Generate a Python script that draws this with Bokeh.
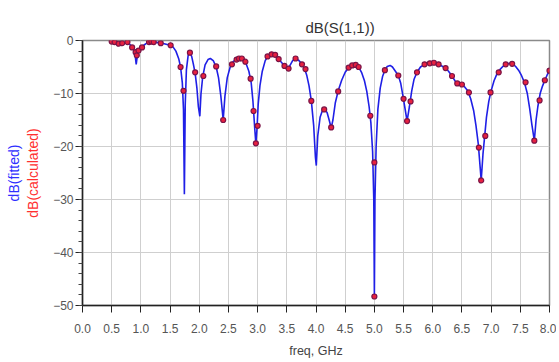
from bokeh.plotting import figure
from bokeh.models import Range1d, FixedTicker, SingleIntervalTicker, PrintfTickFormatter, Title
from bokeh.embed import file_html
from bokeh.resources import INLINE

# Fitted curve (freq in GHz, dB)
fit_freq = [0.50, 0.55, 0.60, 0.65, 0.70, 0.75, 0.80, 0.85, 0.88, 0.90, 0.92, 0.94, 0.96, 1.00, 1.05,
            1.10, 1.15, 1.20, 1.30, 1.40, 1.50, 1.55, 1.60, 1.65, 1.68, 1.71, 1.73, 1.745, 1.76, 1.78,
            1.81, 1.84, 1.87, 1.90, 1.93, 1.96, 1.985, 2.01, 2.03, 2.06, 2.10, 2.15, 2.19, 2.24, 2.29,
            2.33, 2.37, 2.41, 2.44, 2.48, 2.53, 2.58, 2.64, 2.71, 2.76, 2.80, 2.85, 2.89, 2.92, 2.95,
            2.97, 2.99, 3.01, 3.04, 3.08, 3.13, 3.18, 3.24, 3.29, 3.34, 3.40, 3.46, 3.51, 3.55, 3.60,
            3.65, 3.70, 3.75, 3.80, 3.84, 3.88, 3.92, 3.96, 3.99, 4.005, 4.03, 4.07, 4.11, 4.15, 4.19,
            4.23, 4.26, 4.29, 4.33, 4.38, 4.44, 4.50, 4.56, 4.62, 4.68, 4.73, 4.78, 4.83, 4.87, 4.91,
            4.94, 4.97, 4.99, 5.00, 5.01, 5.03, 5.06, 5.10, 5.14, 5.18, 5.22, 5.27, 5.31, 5.36, 5.41,
            5.45, 5.49, 5.52, 5.56, 5.60, 5.64, 5.68, 5.73, 5.79, 5.86, 5.93, 6.00, 6.07, 6.12, 6.17,
            6.22, 6.27, 6.33, 6.38, 6.42, 6.46, 6.50, 6.55, 6.60, 6.65, 6.70, 6.74, 6.78, 6.83, 6.86,
            6.89, 6.92, 6.96, 7.00, 7.05, 7.10, 7.15, 7.20, 7.26, 7.32, 7.37, 7.42, 7.47, 7.52, 7.57,
            7.62, 7.66, 7.70, 7.74, 7.77, 7.80, 7.84, 7.88, 7.92, 7.96, 8.00]
fit_db = [-0.2, -0.3, -0.5, -0.6, -0.5, -0.4, -0.6, -1.2, -1.8, -2.6, -4.5, -2.8, -1.9, -1.4, -0.9,
          -0.5, -0.3, -0.3, -0.4, -0.6, -0.9, -1.2, -2.0, -3.5, -5.0, -8.0, -13.0, -29.0, -12.0, -5.5,
          -2.8, -2.3, -3.0, -4.5, -6.2, -9.0, -12.5, -14.3, -10.0, -6.8, -4.6, -3.6, -3.4, -3.8, -5.0,
          -7.0, -10.5, -15.0, -10.5, -7.0, -5.0, -4.0, -3.5, -3.4, -3.7, -4.3, -5.8, -8.0, -11.5, -16.5,
          -19.5, -16.5, -12.0, -8.5, -5.8, -3.8, -2.9, -2.6, -2.6, -3.1, -4.0, -4.8, -5.2, -4.8, -3.8,
          -3.4, -3.7, -4.3, -5.2, -6.5, -8.5, -11.4, -16.0, -22.0, -23.6, -18.0, -14.5, -13.2, -12.9, -13.6,
          -15.2, -16.5, -15.0, -11.8, -9.5, -7.5, -6.0, -5.1, -4.7, -4.6, -5.0, -6.0, -7.6, -9.6, -12.5,
          -15.5, -21.0, -30.0, -48.3, -30.0, -20.0, -13.0, -9.0, -6.8, -5.6, -4.9, -4.7, -5.0, -5.8, -6.6,
          -8.0, -10.5, -12.5, -15.2, -12.5, -9.5, -7.3, -6.0, -5.0, -4.5, -4.3, -4.2, -4.3, -4.6, -4.9,
          -5.2, -5.8, -6.7, -7.6, -8.1, -8.2, -8.3, -8.8, -9.5, -11.0, -13.2, -16.0, -19.5, -26.4, -21.5,
          -18.0, -14.5, -11.5, -9.5, -7.6, -6.3, -5.5, -4.9, -4.5, -4.3, -4.4, -4.9, -5.6, -6.6, -7.9,
          -10.0, -12.8, -16.0, -18.9, -15.0, -12.5, -10.0, -8.6, -7.5, -6.5, -5.7]

# Calculated points (freq in GHz, dB)
calc_freq = [0.50, 0.55, 0.62, 0.68, 0.77, 0.85, 0.91, 0.93, 0.96, 1.02, 1.14, 1.18, 1.22, 1.34, 1.51,
             1.68, 1.73, 1.84, 1.93, 2.07, 2.29, 2.41, 2.56, 2.64, 2.68, 2.73, 2.79, 2.88, 2.93, 2.97,
             3.00, 3.17, 3.24, 3.30, 3.36, 3.46, 3.53, 3.65, 3.76, 3.82, 3.92, 4.14, 4.26, 4.38, 4.56,
             4.62, 4.68, 4.73, 4.93, 5.00, 5.00, 5.18, 5.41, 5.50, 5.56, 5.62, 5.73, 5.86, 5.95, 6.02,
             6.10, 6.22, 6.33, 6.42, 6.50, 6.62, 6.79, 6.83, 6.90, 6.99, 7.13, 7.25, 7.36, 7.59, 7.74,
             7.83, 7.92, 8.00]
calc_db = [-0.2, -0.3, -0.6, -0.5, -0.3, -1.3, -2.2, -2.8, -1.9, -1.3, -0.3, -0.2, -0.3, -0.5, -0.9,
           -5.0, -9.5, -2.3, -6.0, -6.7, -4.9, -15.0, -4.5, -3.6, -3.4, -3.4, -4.0, -7.2, -13.3, -19.4,
           -16.1, -3.0, -2.6, -2.7, -3.5, -4.8, -5.3, -3.4, -4.5, -5.4, -11.4, -13.0, -16.4, -9.6, -5.1,
           -4.7, -4.6, -5.0, -14.2, -23.0, -48.3, -5.6, -6.6, -11.0, -15.2, -11.5, -6.0, -4.5, -4.3, -4.2,
           -4.5, -5.2, -6.7, -8.1, -8.3, -9.8, -20.2, -26.4, -18.0, -9.8, -6.0, -4.5, -4.4, -7.9, -18.9,
           -11.3, -7.5, -5.7]

x_ticks = [0.0, 0.5, 1.0, 1.5, 2.0, 2.5, 3.0, 3.5, 4.0, 4.5, 5.0, 5.5, 6.0, 6.5, 7.0, 7.5, 8.0]

FONT = "Liberation Sans"

p = figure(width=556, height=360, output_backend="svg", toolbar_location=None,
           x_range=Range1d(0, 8), y_range=Range1d(-50, 0),
           min_border_left=82, min_border_right=7, min_border_top=40, min_border_bottom=55,
           background_fill_color="white", border_fill_color="white")

p.title.text = "dB(S(1,1))"
p.title.align = "left"
p.title.offset = 223
p.title.text_font = FONT
p.title.text_font_size = "15px"
p.title.text_font_style = "normal"
p.title.text_color = "#333333"
p.title.standoff = 10

p.outline_line_color = "#8a8a8a"
p.outline_line_width = 1.5

# X axis
xa = p.xaxis[0]
xa.ticker = FixedTicker(ticks=x_ticks)
xa.formatter = PrintfTickFormatter(format="%.1f")
xa.axis_label = "freq, GHz"
xa.axis_label_text_font = FONT
xa.axis_label_text_font_size = "12.5px"
xa.axis_label_text_font_style = "normal"
xa.axis_label_text_color = "#444444"
xa.axis_label_standoff = 8
xa.major_label_text_font = FONT
xa.major_label_text_font_size = "12px"
xa.major_label_text_color = "#555555"
xa.major_label_standoff = 11
xa.major_tick_out = 7
xa.major_tick_in = 0
xa.minor_tick_line_color = None
xa.axis_line_color = "#222222"
xa.axis_line_width = 1.5
xa.major_tick_line_color = "#222222"

# Y axis
ya = p.yaxis[0]
ya.ticker = SingleIntervalTicker(interval=10, num_minor_ticks=5)
ya.axis_label = "dB(calculated)"
ya.axis_label_text_font = FONT
ya.axis_label_text_font_size = "14px"
ya.axis_label_text_font_style = "normal"
ya.axis_label_text_color = "#ff3030"
ya.axis_label_standoff = 9
ya.major_label_text_font = FONT
ya.major_label_text_font_size = "12px"
ya.major_label_text_color = "#555555"
ya.major_label_standoff = 2
ya.major_tick_out = 7
ya.major_tick_in = 0
ya.minor_tick_out = 4
ya.minor_tick_in = 0
ya.axis_line_color = "#222222"
ya.axis_line_width = 1.5
ya.major_tick_line_color = "#222222"
ya.minor_tick_line_color = "#444444"

p.add_layout(Title(text="dB(fitted)", text_color="#2f2fff", text_font=FONT,
                   text_font_size="14px", text_font_style="normal", align="center",
                   standoff=2), "left")

p.xgrid.ticker = FixedTicker(ticks=x_ticks)
p.xgrid.grid_line_color = "#cfcfcf"
p.ygrid.grid_line_color = "#cfcfcf"

p.line(fit_freq, fit_db, line_color="#1f1fe6", line_width=1.6)
p.scatter(calc_freq, calc_db, size=5, fill_color="#e82040", line_color="#7a1446", line_width=1.2)

open("out.html", "w").write(file_html(p, INLINE))
